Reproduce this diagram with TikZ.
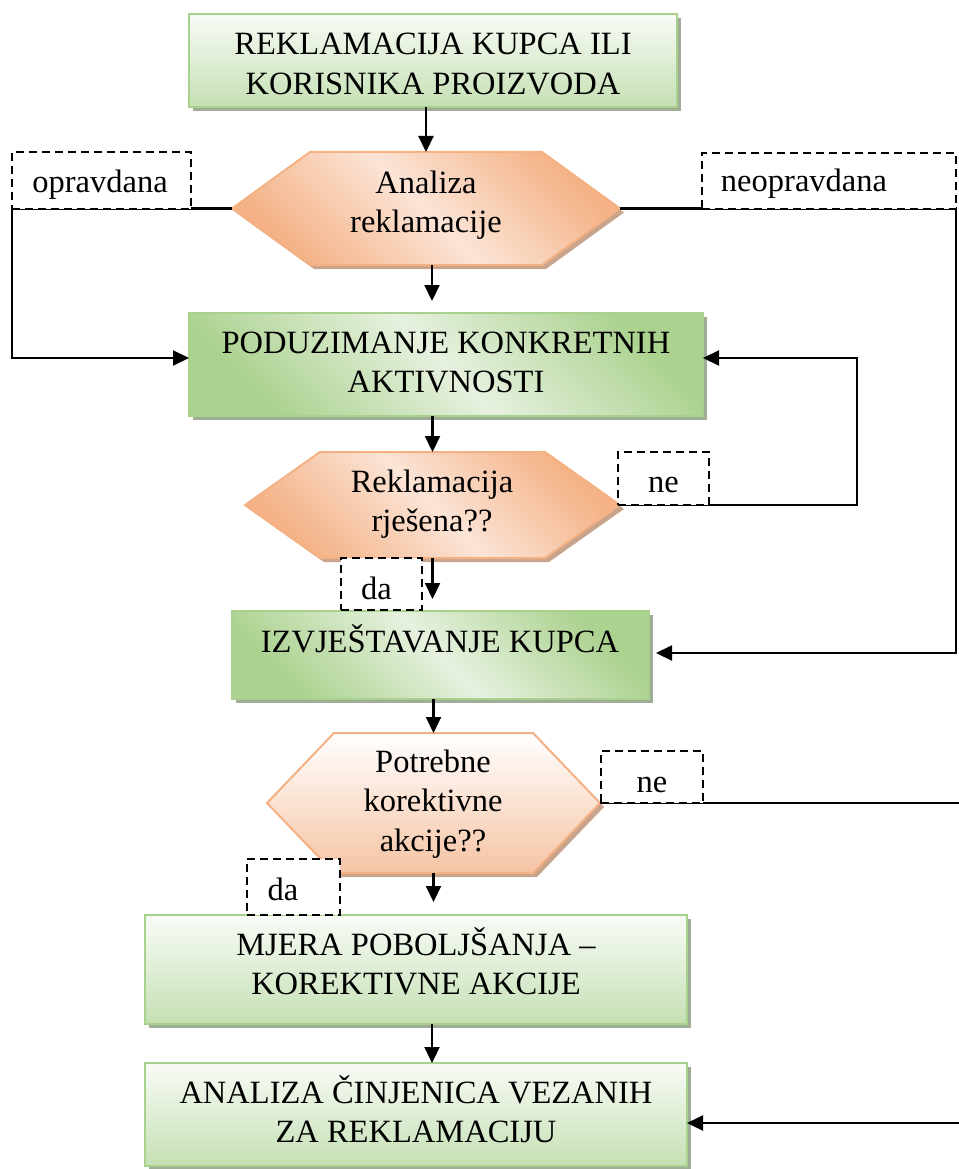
\documentclass[tikz,border=0pt]{standalone}
\usepackage{fontspec}
\setmainfont{Liberation Serif}
\usetikzlibrary{arrows.meta}
\pgfdeclarelayer{shadow}
\pgfdeclarelayer{bg}
\pgfdeclarelayer{mid}
\pgfsetlayers{shadow,bg,mid,main}
\definecolor{gborder}{HTML}{A9D18E}
\definecolor{gdark}{HTML}{ACD290}
\definecolor{glight}{HTML}{E6F1DF}
\definecolor{gtop}{HTML}{F8FBF6}
\definecolor{gbot}{HTML}{C5E0B4}
\definecolor{gshadow}{HTML}{9FAC96}
\definecolor{oborder}{HTML}{F4B183}
\definecolor{odark}{HTML}{F4B286}
\definecolor{olight}{HTML}{FBE4D6}
\definecolor{otop}{HTML}{FFFFFF}
\definecolor{obot}{HTML}{F6C4A4}
\definecolor{oshadow}{HTML}{C9A48C}
\newcommand\myst{\rule{0pt}{30pt}}
\begin{document}
\begin{tikzpicture}[x=1pt,y=-1pt,
  every node/.style={inner sep=0pt, outer sep=0pt},
  fnt/.style={font=\fontsize{32.5}{39.5}\selectfont},
  gbox/.style={draw=gborder, line width=2pt},
  hexbox/.style={draw=none},
  hexst/.style={draw=oborder, line width=2pt},
  lbl/.style={draw=black, fill=white, line width=2.2pt, dash pattern=on 8pt off 5pt},
  txt/.style={fnt, anchor=north, align=center},
  ltxt/.style={fnt, anchor=base},
  arr/.style={line width=2.2pt, -{Triangle[length=16pt,width=15pt]}}
]
\useasboundingbox (0,0) rectangle (958,1169);

% ---------- shapes ----------
\begin{pgfonlayer}{bg}
\node[gbox, minimum width=488pt, minimum height=93pt,
      top color=gtop, bottom color=gbot] (b1) at (433,60.5) {};
\node[gbox, minimum width=514pt, minimum height=103pt,
      top color=gdark, bottom color=gdark, middle color=glight, shading angle=-45] (b2) at (446,364.5) {};
\node[gbox, minimum width=417pt, minimum height=88pt,
      top color=gdark, bottom color=gdark, middle color=glight, shading angle=-45] (b3) at (440.5,655) {};
\node[gbox, minimum width=542pt, minimum height=109pt,
      top color=gtop, bottom color=gbot] (b4) at (416,969.5) {};
\node[gbox, minimum width=542pt, minimum height=103pt,
      top color=gtop, bottom color=gbot] (b5) at (416,1114.5) {};

\node[hexbox, minimum width=388pt, minimum height=113pt] (h1) at (426,208.5) {};
\node[hexbox, minimum width=375pt, minimum height=106pt] (h2) at (432.5,505) {};
\node[hexbox, minimum width=333pt, minimum height=140pt] (h3) at (433.5,803) {};

\draw[hexst, top color=odark, bottom color=odark, middle color=olight, shading angle=-45]
  (h1.west) -- ([xshift=78pt]h1.north west) -- ([xshift=-78pt]h1.north east) -- (h1.east)
  -- ([xshift=-78pt]h1.south east) -- ([xshift=78pt]h1.south west) -- cycle;
\draw[hexst, top color=odark, bottom color=odark, middle color=olight, shading angle=-45]
  (h2.west) -- ([xshift=75pt]h2.north west) -- ([xshift=-75pt]h2.north east) -- (h2.east)
  -- ([xshift=-75pt]h2.south east) -- ([xshift=75pt]h2.south west) -- cycle;
\draw[hexst, top color=otop, bottom color=obot]
  (h3.west) -- ([xshift=67pt]h3.north west) -- ([xshift=-67pt]h3.north east) -- (h3.east)
  -- ([xshift=-67pt]h3.south east) -- ([xshift=67pt]h3.south west) -- cycle;
\end{pgfonlayer}

% ---------- shadows ----------
\begin{pgfonlayer}{shadow}
\begin{scope}[transform canvas={shift={(4pt,-4pt)}}]
\fill[gshadow] (b1.south west) rectangle (b1.north east);
\fill[gshadow] (b2.south west) rectangle (b2.north east);
\fill[gshadow] (b3.south west) rectangle (b3.north east);
\fill[gshadow] (b4.south west) rectangle (b4.north east);
\fill[gshadow] (b5.south west) rectangle (b5.north east);
\fill[oshadow]
  (h1.west) -- ([xshift=78pt]h1.north west) -- ([xshift=-78pt]h1.north east) -- (h1.east)
  -- ([xshift=-78pt]h1.south east) -- ([xshift=78pt]h1.south west) -- cycle;
\fill[oshadow]
  (h2.west) -- ([xshift=75pt]h2.north west) -- ([xshift=-75pt]h2.north east) -- (h2.east)
  -- ([xshift=-75pt]h2.south east) -- ([xshift=75pt]h2.south west) -- cycle;
\fill[oshadow]
  (h3.west) -- ([xshift=67pt]h3.north west) -- ([xshift=-67pt]h3.north east) -- (h3.east)
  -- ([xshift=-67pt]h3.south east) -- ([xshift=67pt]h3.south west) -- cycle;
\end{scope}
\end{pgfonlayer}

% ---------- texts ----------
\node[txt] (t1) at (433,25) {\myst REKLAMACIJA KUPCA ILI\\KORISNIKA PROIZVODA};
\node[txt] (th1) at (426,163) {\myst Analiza\\reklamacije};
\node[txt] (t2) at (446,323) {\myst PODUZIMANJE KONKRETNIH\\AKTIVNOSTI};
\node[txt] (th2) at (432,462) {\myst Reklamacija\\rješena??};
\node[txt] (t3) at (440,622) {\myst IZVJEŠTAVANJE KUPCA};
\node[txt] (th3) at (433,742) {\myst Potrebne\\korektivne\\akcije??};
\node[txt] (t4) at (416,925) {\myst MJERA POBOLJŠANJA –\\KOREKTIVNE AKCIJE};
\node[txt] (t5) at (416,1073) {\myst ANALIZA ČINJENICA VEZANIH\\ZA REKLAMACIJU};

% ---------- dashed labels ----------
\node[lbl, minimum width=179pt, minimum height=57pt] (lo) at (101.5,180.5) {};
\node[ltxt] (tlo) at (100,193) {opravdana};
\node[lbl, minimum width=254pt, minimum height=56pt] (ln) at (829,181) {};
\node[ltxt] (tln) at (804,192) {neopravdana};
\node[lbl, minimum width=91pt, minimum height=53pt] (lne1) at (663.5,478.5) {};
\node[ltxt] (tne1) at (663.5,492) {ne};
\node[lbl, minimum width=81pt, minimum height=52pt] (lda1) at (381.5,584) {};
\node[ltxt] (tda1) at (376.5,599) {da};
\node[lbl, minimum width=102pt, minimum height=52pt] (lne2) at (652,777) {};
\node[ltxt] (tne2) at (652,792) {ne};
\node[lbl, minimum width=93pt, minimum height=56pt] (lda2) at (293.5,887) {};
\node[ltxt] (tda2) at (283,900) {da};

\coordinate (r1) at (857,505);
\coordinate (r2) at (962,803);

% ---------- connectors ----------
\begin{pgfonlayer}{mid}
\draw[arr] (b1.south -| h1.north) -- (h1.north);
\draw[arr, shorten >=12pt] ([xshift=6pt]h1.south) -- ([xshift=6pt]h1.south |- b2.north);
\draw[arr] (h2.north |- b2.south) -- (h2.north);
\draw[arr, shorten >=12pt] (h2.south) -- (h2.south |- b3.north);
\draw[arr] (h3.north |- b3.south) -- (h3.north);
\draw[arr, shorten >=13pt] (h3.south) -- (h3.south |- b4.north);
\draw[arr] ([xshift=16pt]b4.south) -- ([xshift=16pt]b5.north);
\draw[arr] (h1.west) -- (h1.west -| lo.west) |- ([yshift=6.5pt]b2.west);
\draw[arr, shorten >=7pt] (h1.east) -- (h1.east -| ln.east) |- ([yshift=2pt]b3.east);
\draw[arr] (h2.east) -- (r1) |- ([yshift=6.5pt]b2.east);
\draw[arr] (h3.east) -- (r2) |- ([yshift=-8.5pt]b5.east);
\end{pgfonlayer}
\end{tikzpicture}
\end{document}
